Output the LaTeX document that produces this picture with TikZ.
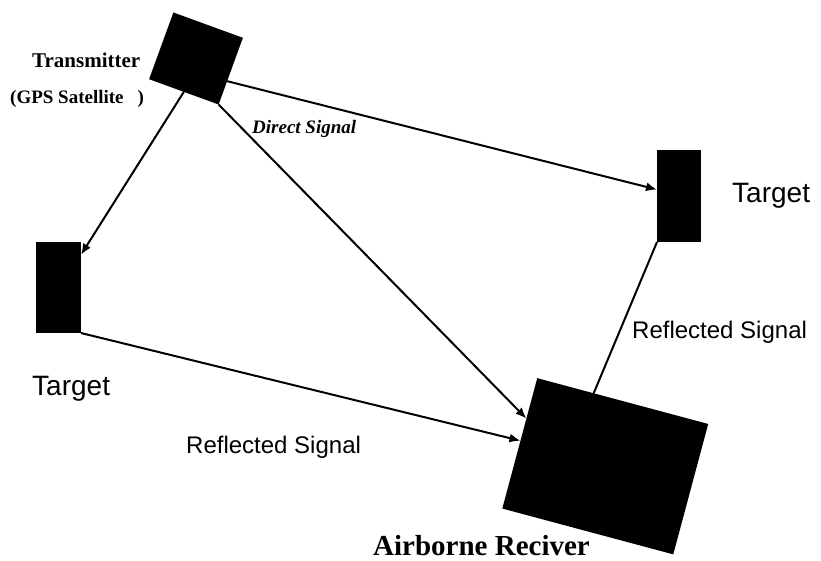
\documentclass[tikz,border=0pt]{standalone}
\usepackage{fontspec}
\setmainfont{Liberation Serif}
\setsansfont{Liberation Sans}
\usetikzlibrary{arrows.meta,calc}
\begin{document}
\begin{tikzpicture}[x=1pt,y=-1pt,
  block/.style={draw=none,fill=black,inner sep=0pt,outer sep=0pt},
  sig/.style={line width=2pt,-{Latex[length=11pt,width=9pt]}},
  plain/.style={line width=2pt},
  lab/.style={inner sep=0pt,anchor=base west},
]
\useasboundingbox (0,0) rectangle (821,560);

% transmitter, targets and receiver
\node[block,minimum width=74pt,minimum height=71pt,rotate=-20] (tx) at (196,58.5) {};
\node[block,minimum width=45pt,minimum height=91pt] (tl) at (58.5,287.5) {};
\node[block,minimum width=44pt,minimum height=92pt] (tr) at (679,196) {};
\node[block,minimum width=177pt,minimum height=135pt,rotate=-15] (rx) at (605.25,466.25) {};

% points on the borders where the signals meet the blocks
\coordinate (txr) at ($(tx.north east)!0.65!(tx.south east)$);
\coordinate (tlin) at ($(tl.north east)!0.14!(tl.south east)$);
\coordinate (trin) at ($(tr.north west)!0.43!(tr.south west)$);
\coordinate (rxd) at ($(rx.north west)!0.31!(rx.south west)$);
\coordinate (rxl) at ($(rx.north west)!0.48!(rx.south west)$);
\coordinate (rxt) at ($(rx.north west)!0.33!(rx.north east)$);

% signal paths
\draw[sig] (tx.south) -- (tlin);
\draw[sig] (txr) -- (trin);
\draw[sig] (tx.south east) -- (rxd);
\draw[sig] (tl.south east) -- (rxl);
\draw[plain] (tr.south west) -- (rxt);

% labels
\node[lab,font=\fontsize{21}{24}\selectfont\bfseries] (ltx) at (32,67) {Transmitter};
\node[lab,font=\fontsize{19}{22}\selectfont\bfseries] (lgps) at (10,103) {(GPS Satellite\hspace{14pt})};
\node[lab,font=\fontsize{19}{22}\selectfont\bfseries\itshape] (ldir) at (252,133) {Direct Signal};
\node[lab,font=\fontsize{28}{32}\selectfont\sffamily] (ltr) at (732,202) {Target};
\node[lab,font=\fontsize{28}{32}\selectfont\sffamily] (ltl) at (32,395) {Target};
\node[lab,font=\fontsize{24}{28}\selectfont\sffamily] (lrr) at (632,338) {Reflected Signal};
\node[lab,font=\fontsize{24}{28}\selectfont\sffamily] (lrb) at (186,453) {Reflected Signal};
\node[lab,font=\fontsize{29}{33}\selectfont\bfseries] (lrx) at (373,555) {Airborne Reciver};
\end{tikzpicture}
\end{document}
